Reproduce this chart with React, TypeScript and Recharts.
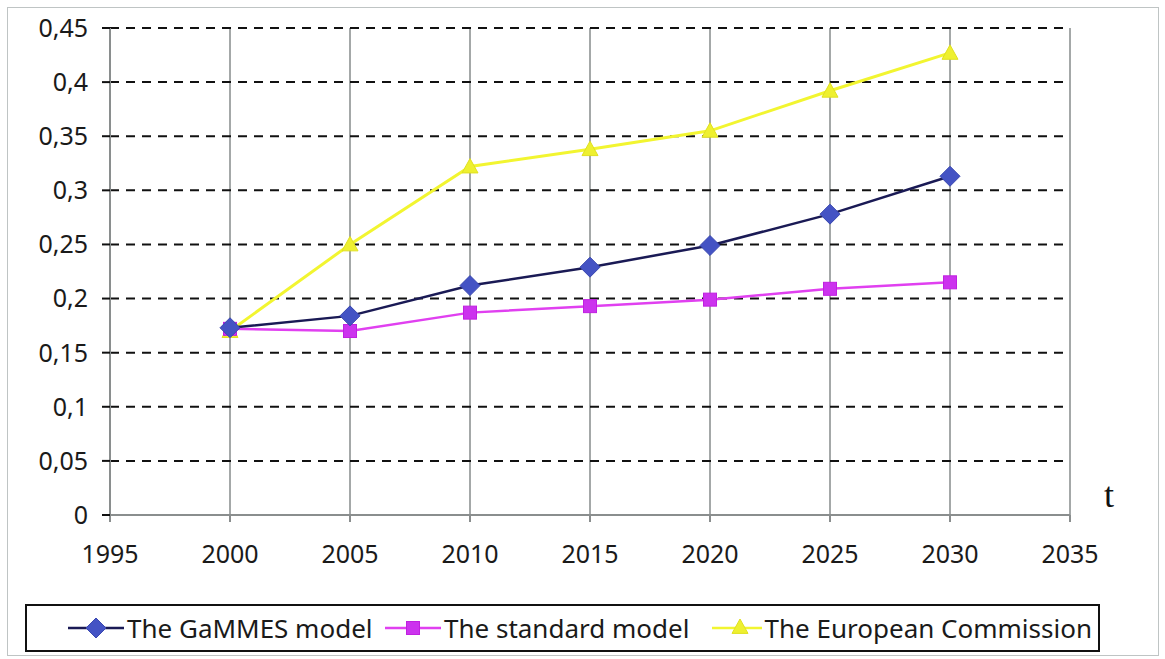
import React from "react";
import { LineChart, Line, XAxis, YAxis, CartesianGrid } from "recharts";

const years = [2000, 2005, 2010, 2015, 2020, 2025, 2030];
const gammesValues = [0.173, 0.184, 0.212, 0.229, 0.249, 0.278, 0.313];
const standardValues = [0.172, 0.17, 0.187, 0.193, 0.199, 0.209, 0.215];
const commissionValues = [0.17, 0.25, 0.322, 0.338, 0.355, 0.392, 0.427];

const xTicks = [1995, 2000, 2005, 2010, 2015, 2020, 2025, 2030, 2035];
const yTicks = [0, 0.05, 0.1, 0.15, 0.2, 0.25, 0.3, 0.35, 0.4, 0.45];

const seriesNames = ["The GaMMES model", "The standard model", "The European Commission"];

const data = years.map((year, i) => ({
  year,
  gammes: gammesValues[i],
  standard: standardValues[i],
  commission: commissionValues[i],
}));

const FONT = "'Noto Sans', 'Open Sans', sans-serif";

const fmt = (v: number) => (Math.round(v * 100) / 100).toString().replace(".", ",");

function Diamond({ cx, cy }: any) {
  if (cx == null || cy == null) return null;
  const r = 10;
  return (
    <path
      d={`M${cx},${cy - r}L${cx + r},${cy}L${cx},${cy + r}L${cx - r},${cy}Z`}
      fill="#4453c4"
      stroke="#3a48b0"
      strokeWidth={1}
    />
  );
}

function Square({ cx, cy }: any) {
  if (cx == null || cy == null) return null;
  const r = 6.5;
  return <rect x={cx - r} y={cy - r} width={r * 2} height={r * 2} fill="#cc33ee" stroke="#c020e0" />;
}

function Triangle({ cx, cy }: any) {
  if (cx == null || cy == null) return null;
  const r = 8;
  return (
    <path
      d={`M${cx},${cy - r}L${cx + r},${cy + r * 0.8}L${cx - r},${cy + r * 0.8}Z`}
      fill="#eef030"
      stroke="#e0e020"
    />
  );
}

function LegendIcon({ kind, line }: { kind: string; line: string }) {
  return (
    <svg width={56} height={22} style={{ display: "block" }}>
      <line x1={0} y1={11} x2={56} y2={11} stroke={line} strokeWidth={2.5} />
      {kind === "diamond" && <Diamond cx={28} cy={11} />}
      {kind === "square" && <Square cx={28} cy={11} />}
      {kind === "triangle" && <Triangle cx={28} cy={10} />}
    </svg>
  );
}

export default function App() {
  const legendItems = [
    { name: seriesNames[0], kind: "diamond", line: "#1a1a55", width: 317 },
    { name: seriesNames[1], kind: "square", line: "#e040f0", width: 327 },
    { name: seriesNames[2], kind: "triangle", line: "#f2f530", width: 380 },
  ];

  return (
    <div
      style={{
        position: "absolute",
        left: 0,
        top: 0,
        width: 1165,
        height: 659,
        background: "#fff",
        fontFamily: FONT,
      }}
    >
      <div
        style={{
          position: "absolute",
          left: 7,
          top: 7,
          width: 1150,
          height: 647,
          border: "1px solid #bfc4c4",
        }}
      />
      <div style={{ position: "absolute", left: 0, top: 0 }}>
        <LineChart width={1165} height={600} data={data} margin={{ top: 28, right: 95, left: 0, bottom: 0 }}>
          <CartesianGrid horizontal={false} vertical stroke="#a4a8a8" strokeWidth={2} />
          <CartesianGrid horizontal vertical={false} stroke="#111" strokeDasharray="9 7" strokeWidth={2} />
          <XAxis
            dataKey="year"
            type="number"
            domain={[1995, 2035]}
            ticks={xTicks}
            height={85}
            tickSize={7}
            tickMargin={23}
            axisLine={{ stroke: "#8a8e8e", strokeWidth: 2 }}
            tickLine={{ stroke: "#8a8e8e", strokeWidth: 2 }}
            tick={{ fill: "#1a1a1a", fontSize: 25, fontFamily: FONT }}
            interval={0}
          />
          <YAxis
            type="number"
            domain={[0, 0.45]}
            ticks={yTicks}
            width={110}
            tickSize={8}
            tickMargin={14}
            tickFormatter={fmt}
            axisLine={{ stroke: "#8a8e8e", strokeWidth: 2 }}
            tickLine={{ stroke: "#111", strokeWidth: 2 }}
            tick={{ fill: "#1a1a1a", fontSize: 25, fontFamily: FONT }}
            interval={0}
          />
          <Line
            dataKey="commission"
            name={seriesNames[2]}
            stroke="#f2f530"
            strokeWidth={3}
            dot={<Triangle />}
            isAnimationActive={false}
          />
          <Line
            dataKey="standard"
            name={seriesNames[1]}
            stroke="#e040f0"
            strokeWidth={2.5}
            dot={<Square />}
            isAnimationActive={false}
          />
          <Line
            dataKey="gammes"
            name={seriesNames[0]}
            stroke="#1a1a55"
            strokeWidth={2.5}
            dot={<Diamond />}
            isAnimationActive={false}
          />
        </LineChart>
      </div>
      <div
        style={{
          position: "absolute",
          left: 1104,
          top: 474,
          fontFamily: "'Liberation Serif', serif",
          fontSize: 36,
          color: "#111",
        }}
      >
        t
      </div>
      <div
        style={{
          position: "absolute",
          left: 25,
          top: 604,
          width: 1075,
          height: 48,
          border: "2px solid #111",
          display: "flex",
          alignItems: "center",
          paddingLeft: 41,
          boxSizing: "border-box",
        }}
      >
        {legendItems.map((it) => (
          <div key={it.name} style={{ display: "flex", alignItems: "center", gap: 3, width: it.width, flexShrink: 0 }}>
            <LegendIcon kind={it.kind} line={it.line} />
            <span style={{ fontSize: 26, color: "#1a1a1a", whiteSpace: "nowrap" }}>{it.name}</span>
          </div>
        ))}
      </div>
    </div>
  );
}
